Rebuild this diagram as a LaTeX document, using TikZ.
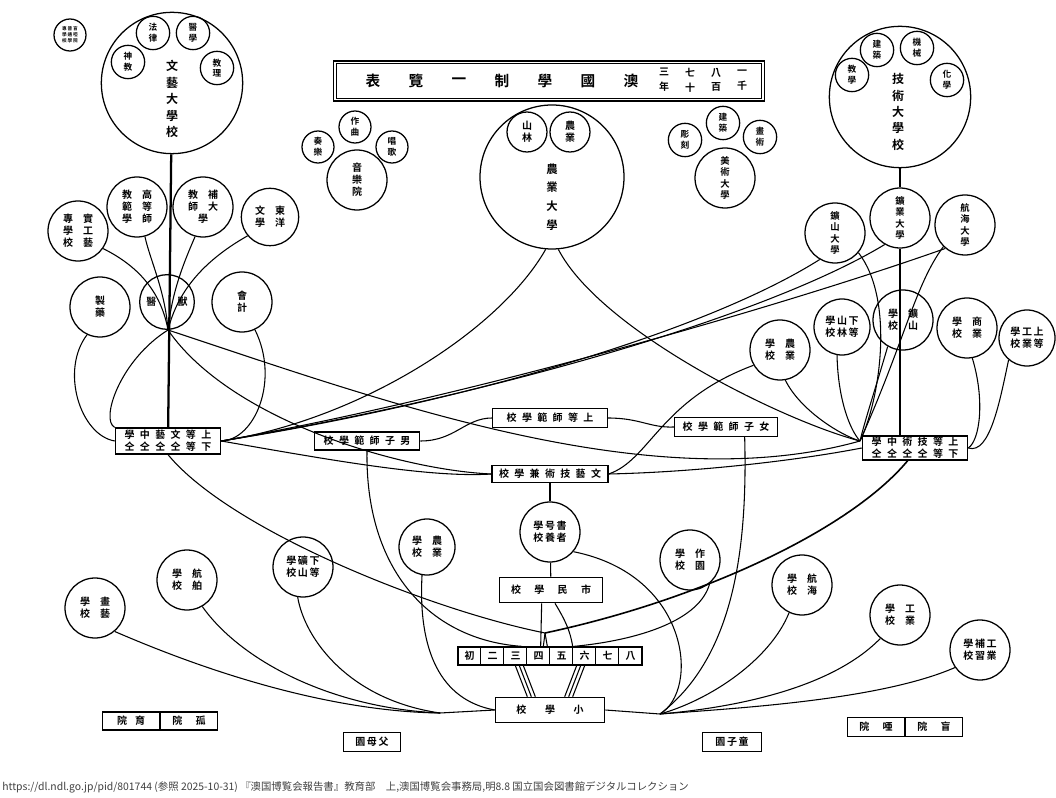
\documentclass[tikz,border=0pt]{standalone}
\usepackage{fontspec}
\setmainfont{Noto Sans CJK TC}[BoldFont=Noto Sans CJK TC Bold]
\newcommand{\gp}{\hspace{4pt}}
\begin{document}
\begin{tikzpicture}[x=0.75pt,y=-0.75pt,
    ring/.style={draw, circle, inner sep=0pt, minimum size=#1, line width=0.95pt},
    plate/.style={draw, rectangle, inner sep=0pt, minimum width=#1, line width=0.95pt},
    word/.style={align=center, inner sep=0pt, font=\fontsize{7.5}{9}\selectfont\bfseries},
    wire/.style={line width=0.8pt},
    trunk/.style={line width=1.7pt}
  ]
  \useasboundingbox (0,0) rectangle (1056,798);

  \node[ring=24pt, word, font=\fontsize{3.5}{4.5}\selectfont\bfseries] (A0) at (70,35) {專\,普\,盲\\學\,通\,啞\\校\,學\,院};

  \node[ring=106pt] (A1) at (172,83) {};
  \node[word, font=\fontsize{9}{12.3}\selectfont\bfseries] (A1t) at (172,99) {文\\藝\\大\\學\\校};
  \node[ring=25pt, word, font=\fontsize{6.5}{8}\selectfont\bfseries] (A1a) at (128,62) {神\\教};
  \node[ring=25pt, word, font=\fontsize{6.5}{8}\selectfont\bfseries] (A1b) at (153,33) {法\\律};
  \node[ring=25pt, word, font=\fontsize{6.5}{8}\selectfont\bfseries] (A1c) at (193,33) {醫\\學};
  \node[ring=25pt, word, font=\fontsize{6.5}{8}\selectfont\bfseries] (A1d) at (217,68) {教\\理};

  \node[ring=45pt, word] (B1) at (78,231) {專\quad 實\\學\quad 工\\校\quad 藝};
  \node[ring=45pt, word] (B2) at (137,207) {教\quad 高\\範\quad 等\\學\quad 師};
  \node[ring=45pt, word] (B3) at (203,207) {教\quad 補\\師\quad 大\\學};
  \node[ring=43pt, word] (B4) at (270,217) {文\quad 東\\學\quad 洋};
  \node[ring=45pt, word] (B5) at (100,307) {製\\藥};
  \node[ring=41pt, word] (B6) at (167,302) {醫\hspace{16pt}獸};
  \node[ring=45pt, word] (B7) at (242,302) {會\\計};
  \coordinate (K1) at (168,330);

  \node[plate=79pt, minimum height=19.5pt, word] (LB) at (168,441) {學\gp 中\gp 藝\gp 文\gp 等\gp 上\\仝\gp 仝\gp 仝\gp 仝\gp 等\gp 下};

  \node[plate=321pt, minimum height=28pt, double, double distance=1.2pt, line width=0.9pt] (T0) at (549,81) {};
  \foreach \c [count=\i] in {表,覽,一,制,學,國,澳}
    \node[word, font=\fontsize{11}{11}\selectfont\bfseries] (T\i) at (330+43*\i,81) {\c};
  \foreach \a/\b [count=\i] in {三/年,七/十,八/百,一/千}
    \node[word, font=\fontsize{7.5}{11}\selectfont\bfseries] (Y\i) at (638+26*\i,80) {\a\\\b};

  \node[ring=45pt, word] (C1) at (357,180) {音\\樂\\院};
  \node[ring=24pt, word, font=\fontsize{6.5}{8}\selectfont\bfseries] (C1a) at (318,147) {奏\\樂};
  \node[ring=24pt, word, font=\fontsize{6.5}{8}\selectfont\bfseries] (C1b) at (355,127) {作\\曲};
  \node[ring=24pt, word, font=\fontsize{6.5}{8}\selectfont\bfseries] (C1c) at (392,147) {唱\\歌};

  \node[ring=108pt] (C2) at (552,177) {};
  \node[word, font=\fontsize{8.5}{14}\selectfont\bfseries] (C2t) at (552,197) {農\\業\\大\\學};
  \node[ring=30pt, word] (C2a) at (527,132) {山\\林};
  \node[ring=30pt, word] (C2b) at (570,132) {農\\業};

  \node[ring=45pt, word, font=\fontsize{7}{8.4}\selectfont\bfseries] (C3) at (725,178) {美\\術\\大\\學};
  \node[ring=25pt, word, font=\fontsize{6.5}{8}\selectfont\bfseries] (C3a) at (685,140) {彫\\刻};
  \node[ring=25pt, word, font=\fontsize{6.5}{8}\selectfont\bfseries] (C3b) at (723,123) {建\\築};
  \node[ring=25pt, word, font=\fontsize{6.5}{8}\selectfont\bfseries] (C3c) at (760,137) {畫\\術};

  \node[ring=106pt] (D1) at (900,97) {};
  \node[word, font=\fontsize{9}{12.3}\selectfont\bfseries] (D1t) at (898,112) {技\\術\\大\\學\\校};
  \node[ring=25pt, word, font=\fontsize{6.5}{8}\selectfont\bfseries] (D1a) at (852,75) {教\\學};
  \node[ring=25pt, word, font=\fontsize{6.5}{8}\selectfont\bfseries] (D1b) at (877,50) {建\\築};
  \node[ring=25pt, word, font=\fontsize{6.5}{8}\selectfont\bfseries] (D1c) at (917,48) {機\\械};
  \node[ring=25pt, word, font=\fontsize{6.5}{8}\selectfont\bfseries] (D1d) at (947,80) {化\\學};

  \node[ring=45pt, word, font=\fontsize{7}{8.4}\selectfont\bfseries] (D2) at (835,233) {鑛\\山\\大\\學};
  \node[ring=45pt, word, font=\fontsize{7}{8.4}\selectfont\bfseries] (D3) at (900,218) {鑛\\業\\大\\學};
  \node[ring=45pt, word, font=\fontsize{7}{8.4}\selectfont\bfseries] (D4) at (965,225) {航\\海\\大\\學};
  \node[ring=45pt, word] (D5) at (903,320) {學\quad 鑛\\校\quad 山};
  \node[ring=42pt, word] (D6) at (842,327) {學\,山\,下\\校\,林\,等};
  \node[ring=45pt, word] (D7) at (780,350) {學\quad 農\\校\quad 業};
  \node[ring=45pt, word] (D8) at (967,328) {學\quad 商\\校\quad 業};
  \node[ring=42pt, word] (D9) at (1027,338) {學\,工\,上\\校\,業\,等};

  \node[plate=79pt, minimum height=18pt, word] (RB) at (915,448) {學\gp 中\gp 術\gp 技\gp 等\gp 上\\仝\gp 仝\gp 仝\gp 仝\gp 等\gp 下};
  \coordinate (K2) at (860,441);

  \node[plate=86pt, minimum height=14pt, word] (E1) at (550,418) {校\gp 學\gp 範\gp 師\gp 等\gp 上};
  \node[plate=79pt, minimum height=13.5pt, word] (E2) at (367,441) {校\gp 學\gp 範\gp 師\gp 子\gp 男};
  \node[plate=77pt, minimum height=14pt, word] (E3) at (726,427) {校\gp 學\gp 範\gp 師\gp 子\gp 女};
  \node[plate=87pt, minimum height=13pt, word] (E4) at (550,474) {校\gp 學\gp 兼\gp 術\gp 技\gp 藝\gp 文};
  \node[ring=45pt, word] (E5) at (550,532) {學\,号\,書\\校\,養\,者};
  \node[plate=77pt, minimum height=19pt, word] (E6) at (551,590) {校\hspace{10pt}學\hspace{10pt}民\hspace{10pt}市};
  \node[plate=138pt, minimum height=13.5pt] (E7) at (550,656) {};
  \foreach \g [count=\i] in {初,二,三,四,五,六,七,八}
    \node[word] (N\i) at (446.5+23*\i,656) {\g};
  \foreach \i in {1,...,7}
    \draw[line width=0.8pt] ([xshift={\i*17.25pt}]E7.north west) -- ([xshift={\i*17.25pt}]E7.south west);
  \node[plate=82pt, minimum height=19pt, word] (E8) at (550,710) {校\hspace{14pt}學\hspace{14pt}小};
  \node[ring=42pt, word] (E9) at (427,547) {學\quad 農\\校\quad 業};
  \node[ring=45pt, word] (E10) at (690,560) {學\quad 作\\校\quad 園};
  \coordinate (V) at (545,633);
  \coordinate (R1) at (660,714);
  \coordinate (L1) at (440,713);

  \node[ring=45pt, word] (F1) at (95,608) {學\quad 畫\\校\quad 藝};
  \node[ring=45pt, word] (F2) at (187,580) {學\quad 航\\校\quad 舶};
  \node[ring=45pt, word] (F3) at (303,567) {學\,礦\,下\\校\,山\,等};

  \node[ring=45pt, word] (G1) at (802,585) {學\quad 航\\校\quad 海};
  \node[ring=45pt, word] (G2) at (900,615) {學\quad 工\\校\quad 業};
  \node[ring=45pt, word] (G3) at (980,650) {學\,補\,工\\校\,習\,業};

  \node[plate=86pt, minimum height=13.5pt] (H1) at (160,721) {};
  \draw[line width=0.95pt] (H1.north) -- (H1.south);
  \node[word] (H1a) at (131,721) {院\hspace{6pt}育};
  \node[word] (H1b) at (189,721) {院\hspace{10pt}孤};
  \node[plate=43pt, minimum height=14pt, word] (H2) at (372,742) {園\,母\,父};
  \node[plate=44pt, minimum height=14pt, word] (H3) at (732,742) {園\,子\,童};
  \node[plate=86pt, minimum height=14pt] (H4) at (905,727) {};
  \draw[line width=0.95pt] (H4.north) -- (H4.south);
  \node[word] (H4a) at (876,727) {院\hspace{10pt}唖};
  \node[word] (H4b) at (934,727) {院\hspace{10pt}盲};

  \node[anchor=west, inner sep=0pt, text=black!75, font=\fontsize{7.8}{9}\selectfont] (N0) at (2,787) {https://dl.ndl.go.jp/pid/801744 (参照 2025-10-31) 『澳国博覧会報告書』教育部　上,澳国博覧会事務局,明8.8 国立国会図書館デジタルコレクション};

  \draw[trunk] (A1) -- (LB);
  \draw[wire] (B1.-35) .. controls (130,262) and (160,285) .. (K1);
  \draw[wire] (B2.-75) .. controls (150,260) and (165,290) .. (K1);
  \draw[wire] (B3.-105) .. controls (185,260) and (172,290) .. (K1);
  \draw[wire] (B4.-140) .. controls (205,260) and (178,290) .. (K1);
  \draw[wire] (B5.-115) .. controls (60,370) and (80,435) .. (LB.west);
  \draw[wire] (K1) .. controls (120,360) and (100,420) .. (LB.north west);
  \draw[wire] (B7.-65) .. controls (280,380) and (255,440) .. (LB.east);

  \draw[wire] (LB.east) .. controls (450,405) and (700,335) .. (D2.-120);
  \draw[wire] (LB.east) .. controls (470,400) and (760,320) .. (D3.-120);
  \draw[wire] (LB.east) .. controls (480,395) and (800,300) .. (D4.-130);
  \draw[wire] (LB.east) .. controls (360,420) and (500,330) .. (C2.-95);
  \draw[wire] (C2.-85) .. controls (600,330) and (780,420) .. (K2);
  \draw[wire] (LB.east) .. controls (330,460) and (430,478) .. (E4.west);
  \draw[wire] (K1) .. controls (230,420) and (400,470) .. (E4.west);
  \draw[wire] (K1) .. controls (380,400) and (650,500) .. (K2);
  \draw[wire] (E4.east) .. controls (700,472) and (800,460) .. (RB.west);
  \draw[wire] (E4.east) .. controls (650,460) and (660,400) .. (D7.-150);
  \draw[wire] (LB.south) .. controls (230,530) and (430,610) .. (V);
  \draw[wire] (E2.south) .. controls (365,570) and (430,640) .. ([xshift=-21pt]E7.north);
  \draw[wire] (E2.east) .. controls (455,441) and (465,418) .. (E1.west);
  \draw[wire] (E1.east) .. controls (640,418) and (650,428) .. (E3.west);
  \draw[wire] ([xshift=14pt]E3.south) .. controls (748,560) and (730,660) .. (R1);
  \draw[wire] (E4) -- (E5);
  \draw[wire] (E5) -- (E6);
  \draw[wire] (E5.-40) .. controls (690,575) and (700,690) .. (R1);
  \draw[wire] ([xshift=-7pt]E6.south) -- ([xshift=-7pt]E7.north);
  \draw[wire] ([xshift=3pt]E6.south) .. controls (565,620) and (570,630) .. ([xshift=17pt]E7.north);
  \draw[wire] (V) -- ([xshift=-5pt]E7.north);
  \draw[wire] (V) -- ([xshift=-2pt]E7.north);
  \foreach \s in {-26,-23,-20}
    \draw[wire] ([xshift={\s pt}]E7.south) -- ([xshift={\s pt+9pt}]E8.north);
  \foreach \s in {20,23,26}
    \draw[wire] ([xshift={\s pt}]E7.south) -- ([xshift={\s pt-9pt}]E8.north);

  \draw[wire] (G1.-115) .. controls (770,660) and (710,700) .. (R1);
  \draw[wire] (G2.-130) .. controls (830,690) and (730,708) .. (R1);
  \draw[wire] (G3.-145) .. controls (880,700) and (740,708) .. (R1);
  \draw[wire] (R1) -- (E8.east);
  \draw[wire] (E10.-50) .. controls (700,620) and (640,640) .. ([xshift=18pt]E7.north);
  \draw[line width=1.2pt] (RB.-120) .. controls (850,530) and (700,600) .. (V);

  \draw[wire] (F1.-50) .. controls (250,690) and (360,712) .. (L1);
  \draw[wire] (F2.-60) .. controls (240,660) and (330,708) .. (L1);
  \draw[wire] (F3.-100) .. controls (305,640) and (350,700) .. (L1);
  \draw[wire] (L1) -- (E8.west);
  \draw[wire] (E9.-100) .. controls (418,650) and (440,700) .. (E8.west);

  \draw[trunk] (D1.south) -- (D3.north);
  \draw[trunk] (D3.south) -- (D3.south |- RB.north);
  \draw[wire] (D7.-80) .. controls (800,410) and (840,435) .. (K2);
  \draw[wire] (D6.-100) .. controls (838,400) and (850,430) .. (K2);
  \draw[wire] (D5.-120) .. controls (875,390) and (865,420) .. (K2);
  \draw[wire] (D2.-40) .. controls (895,300) and (880,400) .. (K2);
  \draw[wire] (D4.-135) .. controls (915,285) and (905,340) .. (K2);
  \draw[wire] (D8.-80) .. controls (985,400) and (980,440) .. (RB.east);
  \draw[wire] (D9.-130) .. controls (1000,400) and (990,455) .. (RB.east);
\end{tikzpicture}
\end{document}
